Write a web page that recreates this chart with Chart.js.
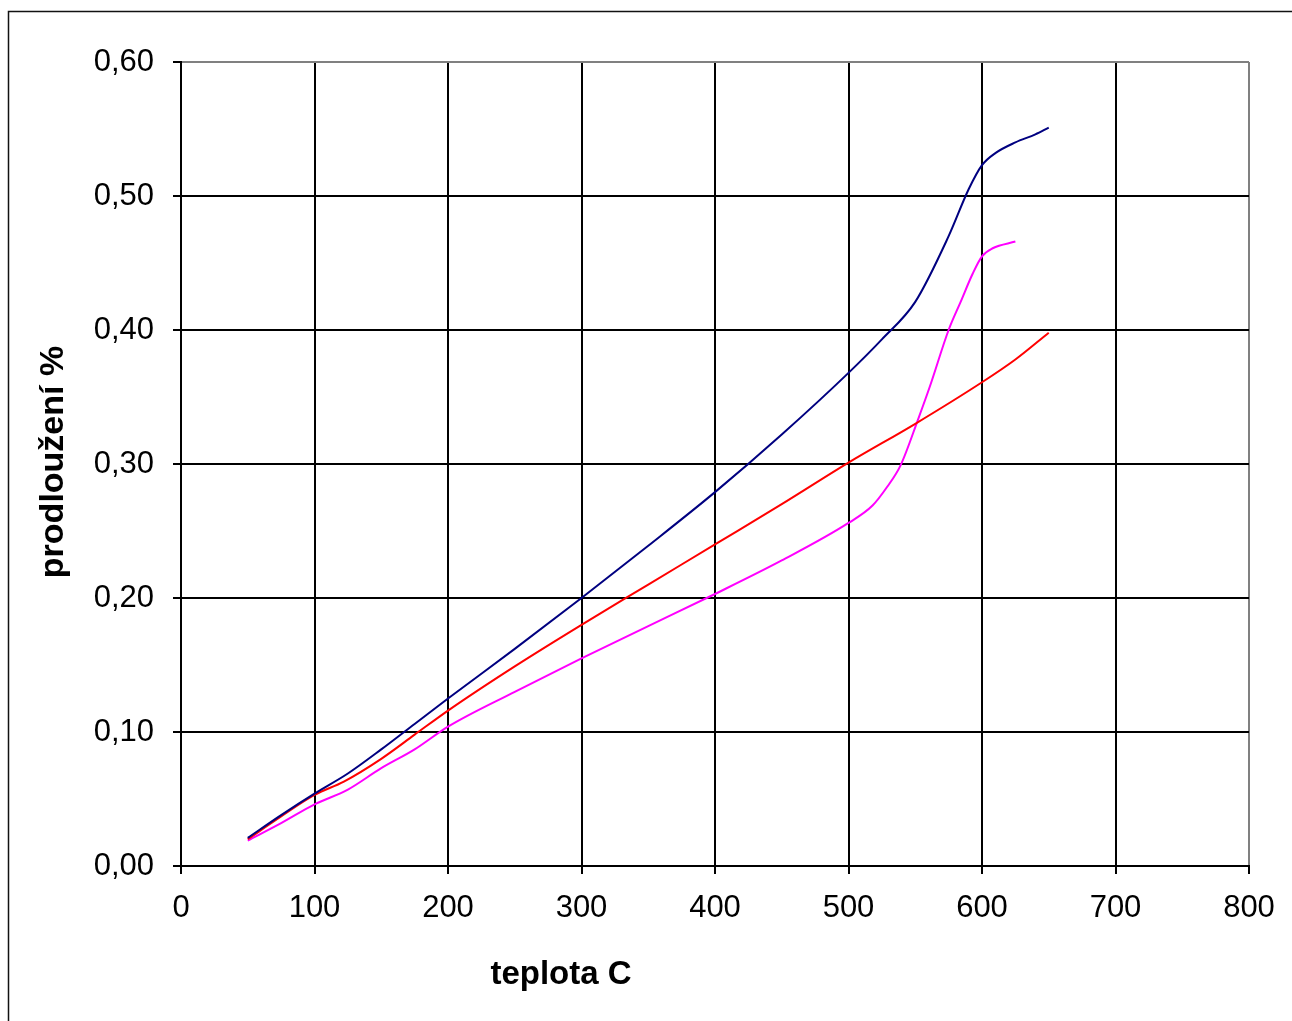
<!DOCTYPE html>
<html>
<head>
<meta charset="utf-8">
<script src="https://cdn.jsdelivr.net/npm/chart.js@4/dist/chart.umd.min.js"></script>
<style>
  html, body { margin: 0; padding: 0; background: #fff; }
  #wrap { position: relative; width: 1292px; height: 1021px; }
</style>
</head>
<body>
<div id="wrap"><canvas id="c" width="1292" height="1021"></canvas></div>
<script>
// ---- data ----
const xTickLabels = ['0','100','200','300','400','500','600','700','800'];
const yTickLabels = ['0,00','0,10','0,20','0,30','0,40','0,50','0,60'];

const xTitle = 'teplota C';
const yTitle = 'prodloužení %';

const blueT = [50, 75, 100, 125, 150, 175, 200, 250, 300, 350, 400, 450, 500, 525, 550, 575, 590, 600, 610, 625, 640, 650];
const blueV = [0.021, 0.038, 0.054, 0.069, 0.087, 0.106, 0.125, 0.162, 0.200, 0.239, 0.279, 0.322, 0.368, 0.393, 0.421, 0.470, 0.505, 0.523, 0.532, 0.540, 0.546, 0.551];

const redT = [50, 75, 100, 122, 150, 175, 200, 250, 300, 350, 400, 450, 500, 550, 600, 625, 650];
const redV = [0.020, 0.037, 0.053, 0.063, 0.080, 0.098, 0.116, 0.149, 0.180, 0.210, 0.240, 0.270, 0.301, 0.330, 0.361, 0.378, 0.398];

const magT = [50, 75, 100, 125, 150, 175, 200, 250, 300, 350, 400, 450, 500, 518, 529, 539, 552, 561, 575, 584, 593, 600, 608, 625];
const magV = [0.019, 0.032, 0.046, 0.057, 0.073, 0.087, 0.104, 0.130, 0.155, 0.179, 0.203, 0.228, 0.256, 0.269, 0.283, 0.299, 0.333, 0.358, 0.400, 0.421, 0.442, 0.455, 0.461, 0.466];

function pts(t, v) { return t.map((x, i) => ({ x: x, y: v[i] })); }

const framePlugin = {
  id: 'frame',
  beforeDraw(chart) {
    const ctx = chart.ctx;
    ctx.save();
    ctx.fillStyle = '#fff';
    ctx.fillRect(0, 0, chart.width, chart.height);
    ctx.strokeStyle = '#111';
    ctx.lineWidth = 1.5;
    ctx.strokeRect(8.5, 11.5, 1400, 1100);
    ctx.restore();
  },
  afterDraw(chart) {
    const ctx = chart.ctx;
    ctx.save();
    ctx.fillStyle = '#000';
    ctx.font = 'bold 33px "Liberation Sans", Arial, sans-serif';
    ctx.textAlign = 'center';
    ctx.textBaseline = 'alphabetic';
    ctx.fillText(xTitle, 561, 984);
    ctx.font = 'bold 34px "Liberation Sans", Arial, sans-serif';
    ctx.translate(63, 462);
    ctx.rotate(-Math.PI / 2);
    ctx.fillText(yTitle, 0, 0);
    ctx.restore();
  }
};

const tickFont = { family: '"Liberation Sans", Arial, sans-serif', size: 31 };

new Chart(document.getElementById('c'), {
  type: 'line',
  data: {
    datasets: [
      { data: pts(blueT, blueV), borderColor: '#000080' },
      { data: pts(redT, redV), borderColor: '#ff0000' },
      { data: pts(magT, magV), borderColor: '#ff00ff' }
    ]
  },
  options: {
    responsive: false,
    animation: false,
    events: [],
    layout: { padding: { left: 0, top: 62, right: 43, bottom: 95 } },
    elements: {
      line: { borderWidth: 2, tension: 0.4, cubicInterpolationMode: 'monotone', fill: false },
      point: { radius: 0 }
    },
    plugins: { legend: { display: false }, tooltip: { enabled: false }, title: { display: false } },
    scales: {
      x: {
        type: 'linear',
        min: 0, max: 800,
        afterFit(s) { s.height = 60; },
        ticks: {
          stepSize: 100,
          color: '#000',
          font: tickFont,
          padding: 16,
          maxRotation: 0,
          callback: (v) => xTickLabels[Math.round(v / 100)]
        },
        grid: {
          color: (c) => (c.tick && c.tick.value === 800 ? '#808080' : '#000'),
          lineWidth: 2,
          tickColor: '#000',
          tickLength: 8,
          drawTicks: true
        },
        border: { display: true, color: '#000', width: 2 }
      },
      y: {
        min: 0, max: 0.6,
        afterFit(s) { s.width = 181; },
        ticks: {
          stepSize: 0.1,
          color: '#000',
          font: tickFont,
          padding: 19,
          callback: (v) => yTickLabels[Math.round(v * 10)]
        },
        grid: {
          color: (c) => (c.tick && Math.abs(c.tick.value - 0.6) < 1e-9 ? '#808080' : '#000'),
          lineWidth: 2,
          tickColor: '#000',
          tickLength: 8,
          drawTicks: true
        },
        border: { display: true, color: '#000', width: 2 }
      }
    }
  },
  plugins: [framePlugin]
});
</script>
</body>
</html>
